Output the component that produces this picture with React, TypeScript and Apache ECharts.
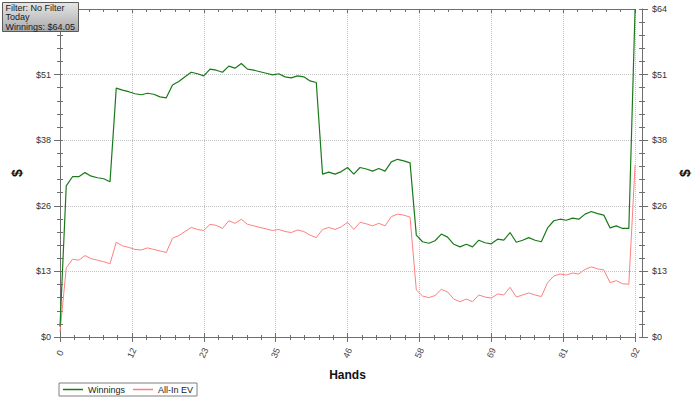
import React, { useEffect, useRef } from "react";
import * as echarts from "echarts";

const winnings = [
  2.0, 29.5, 31.3, 31.3, 32.1, 31.4, 31.1, 30.9, 30.3, 48.6,
  48.2, 47.9, 47.5, 47.3, 47.6, 47.4, 46.9, 46.7, 49.2, 49.9,
  50.8, 51.7, 51.4, 51.0, 52.3, 52.1, 51.7, 52.9, 52.5, 53.4,
  52.3, 52.1, 51.8, 51.5, 51.2, 51.4, 50.8, 50.6, 51.0, 50.8,
  50.0, 49.7, 31.8, 32.2, 31.8, 32.3, 33.1, 31.8, 33.1, 32.8,
  32.4, 32.9, 32.4, 34.2, 34.7, 34.4, 34.0, 19.9, 18.6, 18.3,
  18.8, 20.1, 19.5, 18.1, 17.6, 18.1, 17.6, 18.9, 18.4, 18.2,
  19.1, 18.9, 20.4, 18.5, 18.9, 19.4, 18.9, 18.6, 21.3, 22.7,
  23.0, 22.8, 23.2, 23.0, 24.0, 24.5, 24.1, 23.8, 21.3, 21.7,
  21.2, 21.2, 64.05,
];

const allInEV = [
  1.0, 13.5, 15.2, 15.0, 15.9, 15.3, 15.0, 14.7, 14.3, 18.5,
  17.8, 17.5, 17.1, 17.0, 17.4, 17.1, 16.8, 16.5, 19.3, 19.8,
  20.6, 21.4, 21.0, 20.8, 22.0, 21.8, 21.2, 22.7, 22.2, 23.0,
  22.0, 21.7, 21.4, 21.1, 20.8, 21.0, 20.6, 20.4, 20.9, 20.6,
  19.9, 19.4, 21.0, 21.4, 21.0, 21.5, 22.4, 21.0, 22.4, 22.1,
  21.7, 22.2, 21.7, 23.5, 24.0, 23.8, 23.4, 9.2, 8.0, 7.7,
  8.1, 9.3, 8.8, 7.4, 6.9, 7.4, 6.9, 8.2, 7.8, 7.6,
  8.4, 8.2, 9.7, 7.8, 8.2, 8.6, 8.2, 7.9, 10.6, 11.9,
  12.3, 12.1, 12.5, 12.3, 13.2, 13.7, 13.3, 13.1, 10.6, 11.0,
  10.4, 10.3, 33.6,
];

const seriesNames = ["Winnings", "All-In EV"];
const infoLines = ["Filter: No Filter", "Today", "Winnings: $64.05"];
const xMax = 92;
const xInterval = 11.5;
const yMax = 64.05;
const yInterval = 12.81;

const FONT = "Liberation Sans";
const AXIS_COLOR = "#6e6e6e";

export default function App() {
  const ref = useRef<HTMLDivElement>(null);

  useEffect(() => {
    if (!ref.current) return;
    const chart = echarts.init(ref.current, null, { renderer: "svg" });

    const xBase = {
      type: "value",
      min: 0,
      max: xMax,
      interval: xInterval,
    };
    const yBase = {
      type: "value",
      min: 0,
      max: yMax,
      interval: yInterval,
    };
    const lineStyle = { color: AXIS_COLOR, width: 1 };

    const xLabelFmt = (v: number) => String(Math.round(v));
    const yLabelFmt = (v: number) => "$" + Math.round(v);

    const option: any = {
      animation: false,
      backgroundColor: "#ffffff",
      grid: { left: 60, top: 9, width: 579.6, height: 328, containLabel: false },
      legend: {
        data: seriesNames,
        left: 59,
        top: 383,
        orient: "horizontal",
        icon: "rect",
        itemWidth: 20,
        itemHeight: 1.5,
        itemGap: 8,
        padding: [2, 4, 2, 4],
        borderColor: "#808080",
        borderWidth: 1,
        textStyle: { fontFamily: FONT, fontSize: 9, color: "#222" },
      },
      xAxis: [
        {
          ...xBase,
          position: "bottom",
          name: "Hands",
          nameLocation: "middle",
          nameGap: 32,
          nameTextStyle: { fontFamily: FONT, fontSize: 12, fontWeight: "bold", color: "#111" },
          axisLine: { show: true, onZero: false, lineStyle },
          axisTick: { show: true, length: 5, lineStyle },
          minorTick: { show: true, splitNumber: 5, length: 3, lineStyle },
          axisLabel: {
            formatter: xLabelFmt,
            rotate: 65,
            align: "center",
            verticalAlign: "middle",
            margin: 16,
            fontFamily: FONT,
            fontSize: 9,
            color: "#444",
          },
          splitLine: { show: true, lineStyle: { type: "dotted", color: "#c4c4c4", width: 1 } },
        },
        {
          ...xBase,
          position: "bottom",
          axisLine: { show: false, onZero: false },
          axisTick: { show: true, inside: true, length: 4, lineStyle },
          minorTick: { show: true, splitNumber: 5, length: 2, lineStyle },
          axisLabel: { show: false },
          splitLine: { show: false },
        },
        {
          ...xBase,
          position: "top",
          axisLine: { show: true, onZero: false, lineStyle },
          axisTick: { show: true, inside: true, length: 4, lineStyle },
          minorTick: { show: true, splitNumber: 5, length: 3, lineStyle },
          axisLabel: { show: false },
          splitLine: { show: false },
        },
      ],
      yAxis: [
        {
          ...yBase,
          position: "left",
          name: "$",
          nameLocation: "middle",
          nameGap: 36,
          nameTextStyle: { fontFamily: FONT, fontSize: 14, fontWeight: "bold", color: "#111" },
          axisLine: { show: true, onZero: false, lineStyle },
          axisTick: { show: true, length: 6, lineStyle },
          minorTick: { show: true, splitNumber: 5, length: 3, lineStyle },
          axisLabel: {
            formatter: yLabelFmt,
            showMaxLabel: false,
            margin: 9,
            fontFamily: FONT,
            fontSize: 9,
            color: "#333",
          },
          splitLine: { show: true, lineStyle: { type: "dotted", color: "#c4c4c4", width: 1 } },
        },
        {
          ...yBase,
          position: "left",
          axisLine: { show: false, onZero: false },
          axisTick: { show: true, inside: true, length: 3, lineStyle },
          minorTick: { show: true, splitNumber: 5, length: 3, lineStyle },
          axisLabel: { show: false },
          splitLine: { show: false },
        },
        {
          ...yBase,
          position: "right",
          offset: 7,
          name: "$",
          nameLocation: "middle",
          nameGap: 32,
          nameTextStyle: { fontFamily: FONT, fontSize: 14, fontWeight: "bold", color: "#111" },
          axisLine: { show: true, onZero: false, lineStyle },
          axisTick: { show: true, length: 6, lineStyle },
          minorTick: { show: true, splitNumber: 5, length: 3, lineStyle },
          axisLabel: { formatter: yLabelFmt, margin: 10, fontFamily: FONT, fontSize: 9, color: "#333" },
          splitLine: { show: false },
        },
        {
          ...yBase,
          position: "right",
          offset: 7,
          axisLine: { show: false, onZero: false },
          axisTick: { show: true, inside: true, length: 3, lineStyle },
          minorTick: { show: true, splitNumber: 5, length: 3, lineStyle },
          axisLabel: { show: false },
          splitLine: { show: false },
        },
      ],
      series: [
        {
          name: seriesNames[0],
          type: "line",
          xAxisIndex: 0,
          yAxisIndex: 0,
          data: winnings.map((v, i) => [i, v]),
          showSymbol: false,
          symbol: "none",
          color: "#1a7a1a",
          lineStyle: { color: "#1a7a1a", width: 1.2 },
          z: 3,
        },
        {
          name: seriesNames[1],
          type: "line",
          xAxisIndex: 0,
          yAxisIndex: 0,
          data: allInEV.map((v, i) => [i, v]),
          showSymbol: false,
          symbol: "none",
          color: "#ff7f7f",
          lineStyle: { color: "#ff7f7f", width: 1 },
          z: 2,
        },
      ],
      graphic: [
        {
          type: "group",
          left: 2,
          top: 2,
          z: 100,
          children: [
            {
              type: "rect",
              z: 100,
              shape: { x: 0, y: 0, width: 76, height: 29 },
              style: {
                fill: new echarts.graphic.LinearGradient(0, 0, 0, 1, [
                  { offset: 0, color: "#e6e6e6" },
                  { offset: 1, color: "#a9a9a9" },
                ]),
                stroke: "#5a5a5a",
                lineWidth: 1,
              },
            },
            ...infoLines.map((t, i) => ({
              type: "text",
              z: 101,
              x: 3,
              y: 1 + i * 9.3,
              style: {
                text: t,
                fontFamily: FONT,
                fontSize: 9,
                fill: "#1a1a1a",
                textVerticalAlign: "top",
              },
            })),
          ],
        },
      ],
    };

    chart.setOption(option);
    return () => chart.dispose();
  }, []);

  return (
    <div
      ref={ref}
      style={{ position: "absolute", left: 0, top: 0, width: 700, height: 401 }}
    />
  );
}
